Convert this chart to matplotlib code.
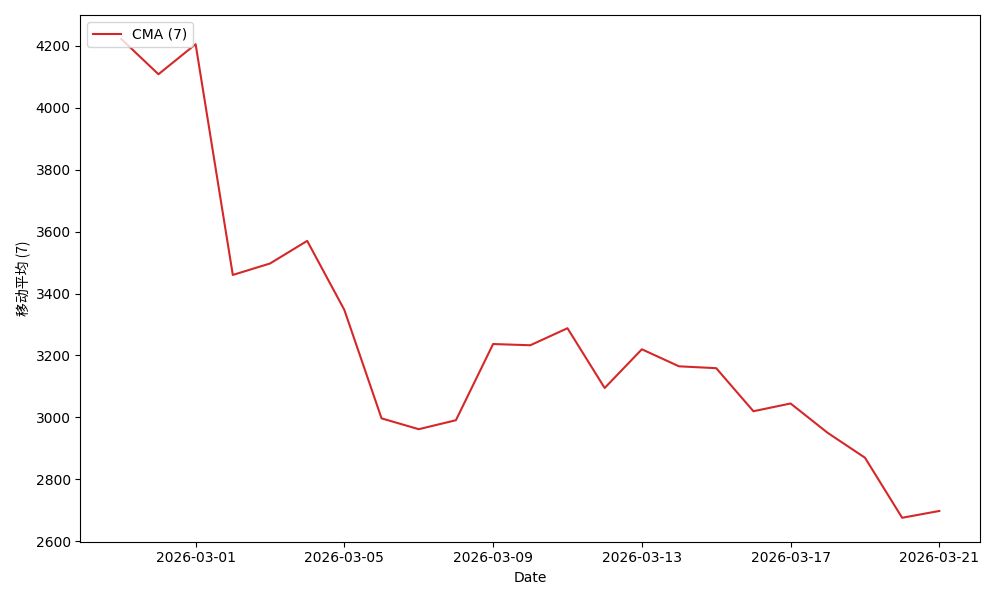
import numpy as np
import pandas as pd
import matplotlib
matplotlib.use("Agg")
import matplotlib.pyplot as plt
import matplotlib.dates as mdates

# 7-day centered moving average
dates = pd.date_range("2026-02-27", "2026-03-21", freq="D")
cma_values = [4222, 4108, 4205, 3460, 3497, 3570, 3347, 2997, 2962, 2991,
              3237, 3233, 3288, 3095, 3220, 3165, 3159, 3020, 3045, 2950,
              2870, 2676, 2698]
series_label = "CMA (7)"
y_label = "移动平均 (7)"

fig, ax = plt.subplots(figsize=(10, 6), dpi=100)
ax.plot(dates, cma_values, color="#d62728", label=series_label)

ax.xaxis.set_major_locator(mdates.DayLocator(bymonthday=[1, 5, 9, 13, 17, 21]))
ax.xaxis.set_major_formatter(mdates.DateFormatter("%Y-%m-%d"))

ax.set_xlabel("Date")
ax.set_ylabel(y_label, family=["Noto Sans CJK SC", "DejaVu Sans"])
ax.legend(loc="upper left")

plt.tight_layout()
plt.savefig("out.png")
